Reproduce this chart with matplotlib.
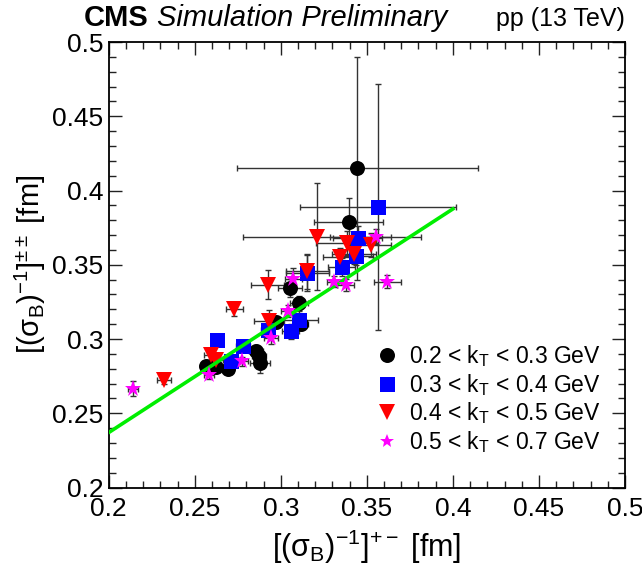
import matplotlib
matplotlib.use("Agg")
import matplotlib.pyplot as plt
from matplotlib.lines import Line2D
from matplotlib.ticker import MultipleLocator

plt.rcParams['font.family'] = ['Liberation Sans', 'DejaVu Sans']
plt.rcParams['mathtext.fontset'] = 'custom'
plt.rcParams['mathtext.rm'] = 'Liberation Sans'
plt.rcParams['mathtext.it'] = 'Liberation Sans:italic'
plt.rcParams['mathtext.bf'] = 'Liberation Sans:bold'

# ---- data: kT 0.2-0.3 GeV (black circles)
kt1_x = [0.3444, 0.3395, 0.3054, 0.3106, 0.2971, 0.3120, 0.2855, 0.2874, 0.2880, 0.2564, 0.2622, 0.2694]
kt1_y = [0.4150, 0.3790, 0.3343, 0.3242, 0.3116, 0.3100, 0.2917, 0.2883, 0.2839, 0.2816, 0.2810, 0.2798]
kt1_xe = [0.0700, 0.0200, 0.0070, 0.0050, 0.0040, 0.0040, 0.0040, 0.0040, 0.0060, 0.0030, 0.0030, 0.0030]
kt1_ye = [0.0750, 0.0160, 0.0060, 0.0050, 0.0040, 0.0040, 0.0040, 0.0040, 0.0067, 0.0030, 0.0030, 0.0030]

# ---- kT 0.3-0.4 GeV (blue squares)
kt2_x = [0.3566, 0.3446, 0.3436, 0.3353, 0.3155, 0.3106, 0.3058, 0.2923, 0.2782, 0.2709, 0.2632]
kt2_y = [0.3890, 0.3680, 0.3560, 0.3484, 0.3444, 0.3130, 0.3051, 0.3063, 0.2950, 0.2850, 0.2995]
kt2_xe = [0.0454, 0.0140, 0.0100, 0.0080, 0.0126, 0.0110, 0.0050, 0.0040, 0.0040, 0.0030, 0.0030]
kt2_ye = [0.0830, 0.0080, 0.0060, 0.0060, 0.0120, 0.0060, 0.0050, 0.0040, 0.0040, 0.0030, 0.0030]

# ---- kT 0.4-0.5 GeV (red triangles)
kt3_x = [0.3209, 0.3387, 0.3523, 0.3426, 0.3345, 0.3155, 0.2923, 0.2932, 0.2729, 0.2593, 0.2622, 0.2322]
kt3_y = [0.3690, 0.3646, 0.3634, 0.3574, 0.3551, 0.3455, 0.3365, 0.3118, 0.3202, 0.2894, 0.2860, 0.2726]
kt3_xe = [0.0430, 0.0180, 0.0120, 0.0130, 0.0100, 0.0126, 0.0097, 0.0087, 0.0050, 0.0040, 0.0040, 0.0040]
kt3_ye = [0.0360, 0.0080, 0.0080, 0.0070, 0.0060, 0.0120, 0.0098, 0.0075, 0.0050, 0.0040, 0.0040, 0.0030]

# ---- kT 0.5-0.7 GeV (magenta stars)
kt4_x = [0.3552, 0.3620, 0.3310, 0.3378, 0.3073, 0.3039, 0.2942, 0.2777, 0.2583, 0.2143]
kt4_y = [0.3690, 0.3387, 0.3387, 0.3365, 0.3405, 0.3186, 0.3007, 0.2850, 0.2760, 0.2666]
kt4_xe = [0.0265, 0.0078, 0.0040, 0.0050, 0.0050, 0.0040, 0.0040, 0.0030, 0.0030, 0.0030]
kt4_ye = [0.0050, 0.0045, 0.0040, 0.0040, 0.0074, 0.0040, 0.0040, 0.0030, 0.0030, 0.0050]

# ---- linear fit line
fit_x = [0.2, 0.4]
fit_intercept = 0.237
fit_slope = 0.753
fit_y = [fit_intercept + fit_slope * (x - 0.2) for x in fit_x]

labels = [r'0.2 < $\mathrm{k}_{\mathrm{T}}$ < 0.3 GeV',
          r'0.3 < $\mathrm{k}_{\mathrm{T}}$ < 0.4 GeV',
          r'0.4 < $\mathrm{k}_{\mathrm{T}}$ < 0.5 GeV',
          r'0.5 < $\mathrm{k}_{\mathrm{T}}$ < 0.7 GeV']

fig = plt.figure(figsize=(6.42, 5.67), dpi=100)
ax = fig.add_axes([0.1693, 0.1402, 0.8042, 0.7857])

series = [
    (kt1_x, kt1_y, kt1_xe, kt1_ye, 'o', '#000000', 10.8),
    (kt2_x, kt2_y, kt2_xe, kt2_ye, 's', '#0000ff', 10.8),
    (kt3_x, kt3_y, kt3_xe, kt3_ye, 'v', '#ff0000', 11.5),
    (kt4_x, kt4_y, kt4_xe, kt4_ye, '*', '#ff00ff', 12.5),
]
handles = []
for i, (x, y, xe, ye, m, c, ms) in enumerate(series):
    ax.errorbar(x, y, xerr=xe, yerr=ye, fmt='none', ecolor='#333333',
                elinewidth=1.0, capsize=2.5, capthick=1.0, zorder=2)
    ax.plot(x, y, linestyle='none', marker=m, color=c, markersize=ms,
            markeredgewidth=0, zorder=3 + i if i < 3 else 8)
    handles.append(Line2D([], [], linestyle='none', marker=m, color=c,
                          markersize=ms if i < 3 else 10.5, markeredgewidth=0))

ax.plot(fit_x, fit_y, color='#00ee00', lw=2.6, zorder=7)

ax.set_xlim(0.2, 0.5)
ax.set_ylim(0.2, 0.5)
ax.xaxis.set_minor_locator(MultipleLocator(0.01))
ax.yaxis.set_minor_locator(MultipleLocator(0.01))
ax.set_xticks([0.2, 0.25, 0.3, 0.35, 0.4, 0.45, 0.5])
ax.set_xticklabels(['0.2', '0.25', '0.3', '0.35', '0.4', '0.45', '0.5'])
ax.set_yticks([0.2, 0.25, 0.3, 0.35, 0.4, 0.45, 0.5])
ax.set_yticklabels(['0.2', '0.25', '0.3', '0.35', '0.4', '0.45', '0.5'])
ax.tick_params(which='both', direction='in', top=True, right=True, width=1.0, color='#222222')
ax.tick_params(which='major', length=9.5)
ax.tick_params(which='minor', length=5)
ax.tick_params(axis='x', which='major', labelsize=19, pad=7)
ax.tick_params(axis='y', which='major', labelsize=19, pad=4)
for s in ax.spines.values():
    s.set_linewidth(1.3)

ax.set_xlabel(r'[(σ$_{\mathrm{B}}$)$^{\mathrm{-1}}$]$^{\mathrm{+-}}$ [fm]', fontsize=22, labelpad=5)
ax.set_ylabel(r'[(σ$_{\mathrm{B}}$)$^{\mathrm{-1}}$]$^{\mathrm{\pm\pm}}$ [fm]', fontsize=21, labelpad=3)

leg = ax.legend(handles, labels, loc='upper left', bbox_to_anchor=(0.5, 0.345),
                frameon=False, fontsize=16.5, handlelength=1.0, handletextpad=0.45,
                labelspacing=0.12, borderaxespad=0)

fig.text(0.131, 0.955, 'CMS', fontsize=21, fontweight='bold', ha='left', va='baseline')
fig.text(0.245, 0.955, 'Simulation Preliminary', fontsize=21, style='italic', ha='left', va='baseline')
fig.text(0.9735, 0.955, 'pp (13 TeV)', fontsize=18, ha='right', va='baseline')

fig.savefig('out.png', dpi=100)
